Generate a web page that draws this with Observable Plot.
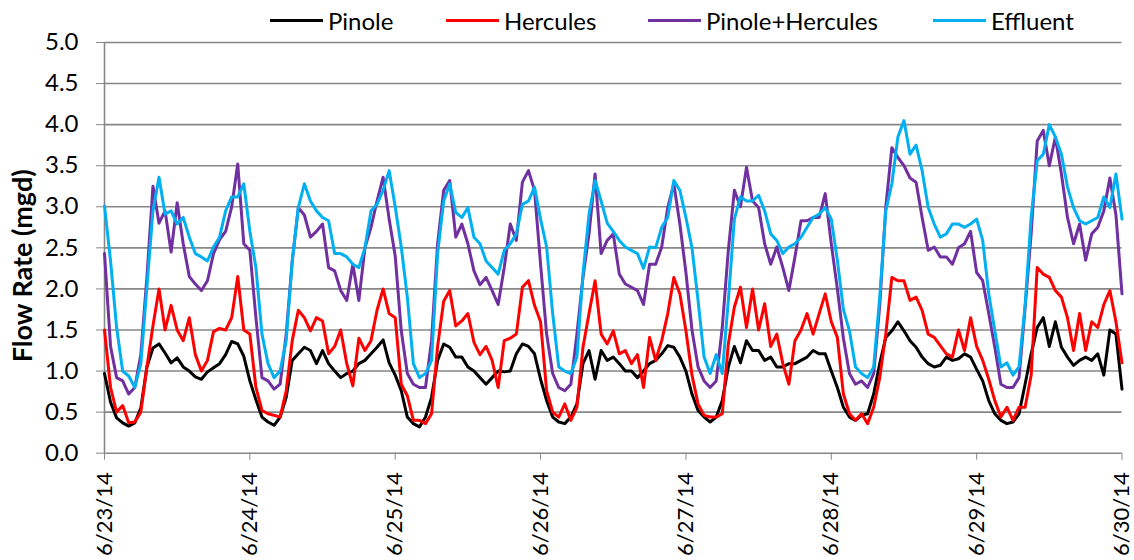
<!DOCTYPE html>
<html>
<head>
<meta charset="utf-8">
<script src="https://cdn.jsdelivr.net/npm/d3@7"></script>
<script src="https://cdn.jsdelivr.net/npm/@observablehq/plot@0.6"></script>
<style>
  html, body { margin: 0; padding: 0; background: #fff; }
  #wrap { position: relative; width: 1134px; height: 560px; font-family: Lato, "Open Sans", sans-serif; }
  .leg { position: absolute; top: 5px; height: 30px; display: flex; align-items: center; font-size: 24px; color: #000; white-space: nowrap; }
  .leg .sw { width: 53px; height: 3px; margin-right: 5px; }
</style>
</head>
<body>
<div id="wrap"></div>
<script>
// Series names, colours, tick labels
const seriesNames = ["Pinole", "Hercules", "Pinole+Hercules", "Effluent"];
const seriesColors = ["#000000", "#FF0000", "#7030A0", "#00B0F0"];
const dateLabels = ["6/23/14", "6/24/14", "6/25/14", "6/26/14", "6/27/14", "6/28/14", "6/29/14", "6/30/14"];
const yTicks = [0, 0.5, 1, 1.5, 2, 2.5, 3, 3.5, 4, 4.5, 5];

// Hourly flow readings (mgd), 6/23/14 00:00 through 6/30/14 00:00
const pinole = [
  0.97,0.62,0.43,0.37,0.33,0.37, 0.55,1.05,1.28,1.33,1.22,1.10, 1.16,1.05,1.00,0.93,0.90,0.99, 1.04,1.09,1.20,1.36,1.33,1.18,
  0.88,0.65,0.44,0.38,0.34,0.44, 0.68,1.13,1.21,1.29,1.25,1.09, 1.25,1.09,1.00,0.92,0.97,1.00, 1.09,1.13,1.21,1.29,1.38,1.10,
  0.95,0.76,0.44,0.36,0.32,0.44, 0.68,1.13,1.33,1.29,1.17,1.17, 1.05,1.00,0.92,0.84,0.92,1.00, 0.99,1.00,1.21,1.33,1.30,1.21,
  0.90,0.64,0.44,0.38,0.36,0.44, 0.60,1.09,1.25,0.90,1.25,1.13, 1.17,1.09,1.00,1.00,0.92,1.00, 1.09,1.13,1.21,1.31,1.29,1.17,
  1.00,0.72,0.52,0.44,0.38,0.44, 0.64,1.05,1.30,1.10,1.37,1.25, 1.25,1.13,1.17,1.05,1.05,1.09, 1.09,1.13,1.17,1.25,1.21,1.21,
  1.00,0.80,0.56,0.44,0.40,0.46, 0.48,0.72,1.09,1.41,1.49,1.60, 1.49,1.37,1.29,1.17,1.09,1.05, 1.07,1.17,1.13,1.15,1.21,1.17,
  1.02,0.88,0.64,0.48,0.40,0.36, 0.38,0.48,0.84,1.21,1.53,1.65, 1.30,1.60,1.29,1.17,1.07,1.13, 1.17,1.13,1.21,0.95,1.50,1.45,
  0.78
];
const hercules = [
  1.50,0.80,0.50,0.58,0.37,0.38, 0.50,1.05,1.55,2.00,1.50,1.80, 1.50,1.37,1.65,1.20,1.00,1.13, 1.48,1.52,1.50,1.65,2.15,1.50,
  1.45,0.80,0.52,0.48,0.46,0.44, 0.76,1.37,1.74,1.65,1.49,1.65, 1.61,1.21,1.30,1.50,1.09,0.82, 1.40,1.25,1.37,1.74,2.00,1.70,
  1.65,0.84,0.70,0.40,0.40,0.36, 0.48,1.30,1.85,1.98,1.55,1.61, 1.70,1.35,1.20,1.30,1.13,0.80, 1.37,1.40,1.45,2.02,2.10,1.80,
  1.60,0.76,0.50,0.44,0.60,0.40, 0.56,1.29,1.70,2.10,1.45,1.33, 1.49,1.21,1.25,1.09,1.20,0.80, 1.41,1.13,1.37,1.70,2.14,1.94,
  1.49,0.95,0.60,0.46,0.44,0.44, 0.48,1.33,1.78,2.02,1.53,2.00, 1.50,1.82,1.30,1.45,1.09,0.84, 1.37,1.50,1.70,1.45,1.70,1.94,
  1.60,1.41,0.72,0.48,0.40,0.48, 0.36,0.56,0.92,1.45,2.14,2.10, 2.10,1.86,1.90,1.74,1.45,1.41, 1.31,1.21,1.17,1.50,1.25,1.65,
  1.30,1.13,0.90,0.64,0.44,0.56, 0.40,0.56,0.56,0.95,2.26,2.18, 2.14,1.98,1.90,1.65,1.25,1.70, 1.25,1.60,1.53,1.81,1.98,1.60,
  1.10
];
const pinoleHercules = [
  2.43,1.30,0.92,0.88,0.72,0.80, 1.20,2.14,3.25,2.80,2.95,2.45, 3.05,2.55,2.15,2.06,1.98,2.10, 2.43,2.60,2.70,3.00,3.52,2.55,
  2.47,1.65,0.92,0.88,0.78,0.84, 1.45,2.34,2.99,2.90,2.63,2.70, 2.79,2.26,2.22,1.98,1.86,2.30, 1.86,2.50,2.75,3.07,3.36,2.85,
  2.40,1.49,0.97,0.84,0.80,0.80, 1.37,2.55,3.20,3.32,2.63,2.79, 2.55,2.22,2.05,2.14,1.98,1.81, 2.26,2.79,2.59,3.30,3.44,3.20,
  2.30,1.45,0.97,0.80,0.76,0.84, 1.45,2.14,2.67,3.40,2.43,2.59, 2.67,2.18,2.06,2.02,1.98,1.81, 2.30,2.30,2.51,2.99,3.28,2.79,
  2.20,1.50,1.05,0.88,0.80,0.88, 1.53,2.47,3.20,3.00,3.48,3.07, 2.99,2.55,2.30,2.51,2.26,1.98, 2.39,2.83,2.83,2.87,2.87,3.16,
  2.55,2.00,1.40,0.97,0.84,0.88, 0.80,0.97,1.80,3.00,3.72,3.60, 3.50,3.35,3.30,2.87,2.47,2.51, 2.39,2.39,2.30,2.50,2.55,2.70,
  2.20,2.10,1.70,1.29,0.84,0.80, 0.80,0.92,1.77,2.67,3.80,3.93, 3.50,3.85,3.40,2.87,2.55,2.79, 2.35,2.67,2.75,2.95,3.35,2.90,
  1.94
];
const effluent = [
  3.01,2.34,1.53,1.00,0.94,0.80, 1.09,2.02,2.95,3.36,2.91,2.95, 2.79,2.87,2.63,2.43,2.39,2.34, 2.51,2.63,2.95,3.12,3.12,3.28,
  2.70,2.26,1.45,1.09,0.92,1.00, 1.37,2.34,2.99,3.28,3.07,2.95, 2.87,2.83,2.43,2.43,2.39,2.30, 2.26,2.50,2.95,3.03,3.20,3.44,
  3.00,2.51,1.90,1.09,0.92,0.97, 1.13,2.43,3.07,3.28,2.93,2.87, 2.99,2.63,2.55,2.34,2.26,2.18, 2.47,2.55,2.67,3.03,3.07,3.24,
  2.85,2.51,1.70,1.05,1.00,0.97, 1.17,2.18,2.91,3.32,3.07,2.80, 2.70,2.59,2.51,2.47,2.43,2.25, 2.51,2.50,2.75,2.87,3.32,3.20,
  2.87,2.50,1.86,1.17,0.97,1.20, 0.97,1.86,2.85,3.12,3.07,3.07, 3.14,2.95,2.67,2.59,2.43,2.51, 2.55,2.63,2.75,2.87,2.91,2.99,
  2.85,2.35,1.75,1.49,1.05,0.97, 0.92,1.05,1.90,2.95,3.28,3.85, 4.05,3.64,3.75,3.44,2.99,2.79, 2.63,2.67,2.79,2.79,2.75,2.79,
  2.85,2.59,1.94,1.49,1.05,1.10, 0.95,1.05,1.80,2.87,3.56,3.64, 4.00,3.85,3.64,3.24,2.99,2.83, 2.79,2.83,2.87,3.12,2.99,3.40,
  2.85
];

const allSeries = [pinole, hercules, pinoleHercules, effluent];
const rows = allSeries.flatMap((arr, s) => arr.map((v, h) => ({hour: h, value: v, series: seriesNames[s]})));
const dayTicks = dateLabels.map((_, i) => i * 24);

const plot = Plot.plot({
  width: 1134,
  height: 560,
  marginLeft: 104,
  marginRight: 12.5,
  marginTop: 42,
  marginBottom: 107.3,
  style: {fontFamily: "Lato, 'Open Sans', sans-serif", fontSize: "24px", background: "#fff", color: "#000", overflow: "visible"},
  x: {domain: [0, 168]},
  y: {domain: [0, 5]},
  color: {domain: seriesNames, range: seriesColors},
  marks: [
    Plot.gridY(yTicks, {stroke: "#878787", strokeOpacity: 1, strokeWidth: 1.6}),
    Plot.ruleX([0], {stroke: "#878787", strokeWidth: 1.6}),
    Plot.axisY(yTicks, {tickFormat: d3.format(".1f"), tickSize: 8, tickPadding: 18, stroke: "#878787", fill: "#000", fontSize: 24, label: null}),
    Plot.axisX(dayTicks, {tickFormat: (d) => dateLabels[d / 24], tickRotate: -90, tickSize: 7, tickPadding: 12, stroke: "#878787", fill: "#000", fontSize: 22, label: null}),
    Plot.line(rows, {x: "hour", y: "value", z: "series", stroke: "series", strokeWidth: 3, strokeLinejoin: "round"}),
    Plot.text(["Flow Rate (mgd)"], {frameAnchor: "left", textAnchor: "middle", rotate: -90, dx: -81, dy: 18, fontWeight: "bold", fontSize: 27, fill: "#000"})
  ]
});

const wrap = document.getElementById("wrap");
wrap.appendChild(plot);

const legendX = [270, 446, 648, 933];
seriesNames.forEach((name, i) => {
  const item = document.createElement("div");
  item.className = "leg";
  item.style.left = legendX[i] + "px";
  const sw = document.createElement("span");
  sw.className = "sw";
  sw.style.background = seriesColors[i];
  const t = document.createElement("span");
  t.textContent = name;
  item.appendChild(sw);
  item.appendChild(t);
  wrap.appendChild(item);
});
</script>
</body>
</html>
